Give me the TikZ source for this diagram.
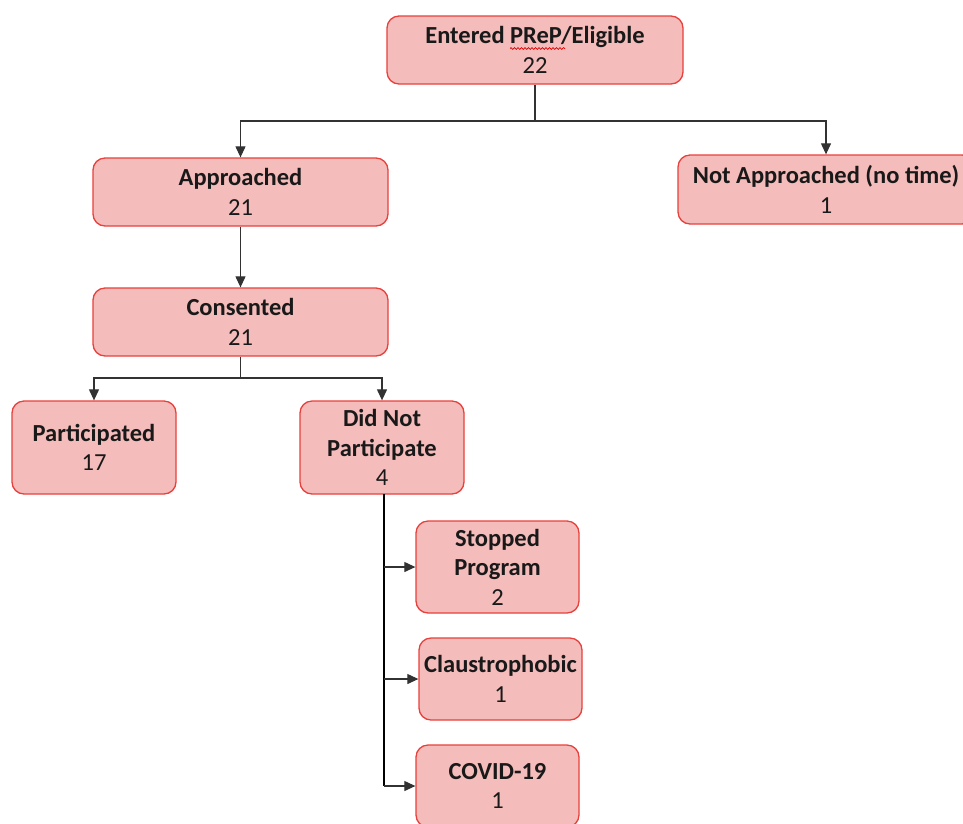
\documentclass[tikz,border=0pt]{standalone}
\usepackage{fontspec}
\setmainfont{Carlito}
\usetikzlibrary{arrows.meta,decorations.pathmorphing}
\definecolor{boxfill}{RGB}{244,188,186}
\definecolor{boxdraw}{RGB}{232,64,60}
\definecolor{linegray}{RGB}{50,50,50}
\definecolor{textdark}{RGB}{25,25,25}
\tikzset{
  box/.style={draw=boxdraw, line width=1.3pt, fill=boxfill, rounded corners=12pt,
    align=center, inner sep=2pt, text=textdark, font=\fontsize{24.5}{29.5}\selectfont},
  conn/.style={draw=linegray, line width=1.1pt, -{Triangle[length=11pt,width=10pt]}},
  plain/.style={draw=linegray, line width=1.1pt},
  thick conn/.style={draw=black, line width=1.6pt},
}
\begin{document}
\begin{tikzpicture}[x=1pt,y=-1pt]
\useasboundingbox (0,0) rectangle (963,823);
\node[box, minimum width=296pt, minimum height=68pt] (entered) at (535,50) {\textbf{Entered PReP/Eligible}\\22};
\node[box, minimum width=295pt, minimum height=68pt] (approached) at (240.5,192) {\textbf{Approached}\\21};
\node[box, minimum width=296pt, minimum height=69pt] (notapp) at (826,189.5) {\textbf{Not Approached (no time)}\\1};
\node[box, minimum width=295pt, minimum height=68pt] (consented) at (240.5,322) {\textbf{Consented}\\21};
\node[box, minimum width=164pt, minimum height=93pt] (part) at (94,447.5) {\textbf{Participated}\\17};
\node[box, minimum width=164pt, minimum height=93pt] (dnp) at (382,447.5) {\textbf{Did Not}\\\textbf{Participate}\\4};
\node[box, minimum width=163pt, minimum height=92pt] (stopped) at (497.5,567) {\textbf{Stopped}\\\textbf{Program}\\2};
\node[box, minimum width=163pt, minimum height=82pt] (claus) at (500.5,679) {\textbf{Claustrophobic}\\1};
\node[box, minimum width=163pt, minimum height=82pt] (covid) at (497.5,786) {\textbf{COVID-19}\\1};
% spell-check underline
\draw[red!85!black, line width=0.7pt, decorate, decoration={snake, amplitude=0.9pt, segment length=3.5pt}] (510,48.5) -- (565,48.5);
% connectors
\coordinate (s1) at (535,121);
\draw[plain] (entered.south) -- (s1);
\draw[conn] (s1) -| (approached.north);
\draw[conn] (s1) -| (notapp.north);
\draw[conn] (approached.south) -- (consented.north);
\coordinate (s2) at (240.5,378);
\draw[plain] (consented.south) -- (s2);
\draw[conn] (s2) -| (part.north);
\draw[conn] (s2) -| (dnp.north);
\coordinate (s3) at (384,494);
\draw[thick conn] (s3) -- (s3 |- covid.west);
\draw[conn] (s3 |- stopped.west) -- (stopped.west);
\draw[conn] (s3 |- claus.west) -- (claus.west);
\draw[conn] (s3 |- covid.west) -- (covid.west);
\end{tikzpicture}
\end{document}
